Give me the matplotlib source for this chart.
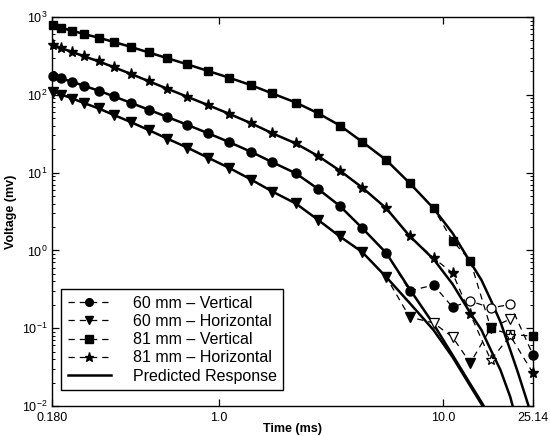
import numpy as np
import matplotlib
matplotlib.use("Agg")
import matplotlib.pyplot as plt
from matplotlib.lines import Line2D
from matplotlib.ticker import NullLocator, LogLocator

plt.rcParams["font.family"] = ["Liberation Sans", "DejaVu Sans"]
plt.rcParams["mathtext.default"] = "regular"

# measurement times (ms)
t = [0.182, 0.198, 0.222, 0.250, 0.291, 0.340, 0.404, 0.485, 0.587, 0.721,
     0.891, 1.11, 1.39, 1.73, 2.20, 2.77, 3.46, 4.35, 5.57, 7.08,
     9.05, 11.0, 13.2, 16.3, 19.9, 25.14]

# measured voltages (mV)
v60_vert = [174.6, 162.2, 147, 130.5, 112.9, 95.4, 78.9, 64.5, 52.0, 41.2,
            32.2, 24.7, 18.5, 13.6, 9.8, 6.15, 3.72, 1.94, 0.927, 0.301,
            0.359, 0.187, 0.224, 0.182, 0.202, 0.0453]
v60_horz = [109.6, 100.9, 89.6, 78.4, 66.7, 55.0, 44.7, 35.3, 27.4, 21.0,
            15.6, 11.5, 8.15, 5.71, 4.01, 2.46, 1.51, 0.953, 0.455, 0.139,
            0.117, 0.077, 0.0357, 0.1007, 0.131, np.nan]
v81_vert = [789, 724, 665, 605, 541, 478, 413, 351, 296, 247,
            203, 166, 133, 104, 79.6, 57.8, 40.3, 24.9, 14.5, 7.35,
            3.48, 1.33, 0.738, 0.100, 0.083, 0.079]
v81_horz = [437, 397, 355, 312, 269, 226, 186, 150, 120, 94.6,
            73.9, 57.0, 43.1, 32.0, 23.7, 16.3, 10.6, 6.43, 3.48, 1.53,
            0.80, 0.513, 0.152, 0.039, 0.080, 0.0265]

# indices drawn as open symbols
open_60_vert = [22, 23, 24]
open_60_horz = [20, 21, 24]
open_81_vert = [24]
open_81_horz = [23, 24]

# predicted response
t_pred = [0.182, 0.198, 0.222, 0.250, 0.291, 0.340, 0.404, 0.485, 0.587, 0.721,
          0.891, 1.11, 1.39, 1.73, 2.20, 2.77, 3.46, 4.35, 5.57, 7.08,
          9.05, 11.0, 13.2, 14.8, 16.3, 18.0, 19.9, 21.5, 23.4, 25.14]
p60_vert = [174.6, 162.2, 147, 130.5, 112.9, 95.4, 78.9, 64.5, 52.0, 41.2,
            32.2, 24.7, 18.5, 13.6, 9.8, 6.15, 3.72, 1.94, 0.927, 0.319,
            0.113, 0.0453, 0.0192, 0.01125, 0.0070, 0.004, 0.002, 0.001, 0.0008, 0.0005]
p60_horz = [109.6, 100.9, 89.6, 78.4, 66.7, 55.0, 44.7, 35.3, 27.4, 21.0,
            15.6, 11.5, 8.15, 5.71, 4.01, 2.46, 1.51, 0.953, 0.455, 0.211,
            0.0948, 0.0426, 0.0181, 0.0106, 0.0066, 0.004, 0.002, 0.001, 0.0008, 0.0005]
p81_vert = [789, 724, 665, 605, 541, 478, 413, 351, 296, 247,
            203, 166, 133, 104, 79.6, 57.8, 40.3, 24.9, 14.5, 7.35,
            3.48, 1.67, 0.71, 0.417, 0.23, 0.120, 0.0525, 0.0273, 0.0127, 0.0066]
p81_horz = [437, 397, 355, 312, 269, 226, 186, 150, 120, 94.6,
            73.9, 57.0, 43.1, 32.0, 23.7, 16.3, 10.6, 6.43, 3.48, 1.53,
            0.774, 0.370, 0.157, 0.095, 0.0525, 0.029, 0.0131, 0.0057, 0.002, 0.001]

labels = ["60 mm \u2013 Vertical", "60 mm \u2013 Horizontal",
          "81 mm \u2013 Vertical", "81 mm \u2013 Horizontal"]

series = [
    (v60_vert, open_60_vert, p60_vert, "o", 6.5),
    (v60_horz, open_60_horz, p60_horz, "v", 7.0),
    (v81_vert, open_81_vert, p81_vert, "s", 6.0),
    (v81_horz, open_81_horz, p81_horz, "*", 8.0),
]

dash = (0, (5, 4))

fig = plt.figure(figsize=(5.5, 4.36), dpi=100)
ax = fig.add_axes([0.0945, 0.0688, 0.8746, 0.8922])

tt = np.array(t)
handles = []
for (vals, opn, pred, mk, ms), lab in zip(series, labels):
    v = np.array(vals, dtype=float)
    filled = [i for i in range(len(v)) if i not in opn and not np.isnan(v[i])]
    ax.plot(t_pred, pred, "-", color="k", lw=1.8, zorder=2)
    ax.plot(tt, v, linestyle=dash, lw=0.9, color="k", zorder=3, clip_on=False)
    ax.plot(tt[filled], v[filled], ls="none", marker=mk, ms=ms, mfc="k",
            mec="k", zorder=4, clip_on=False)
    ax.plot(tt[opn], v[opn], ls="none", marker=mk, ms=ms, mfc="white",
            mec="k", mew=0.9, zorder=4, clip_on=False)
    handles.append(Line2D([], [], linestyle=dash, lw=0.9, color="k",
                          marker=mk, ms=ms * 0.85, mfc="k", mec="k"))
handles.append(Line2D([], [], ls="-", lw=1.8, color="k"))

ax.set_xscale("log")
ax.set_yscale("log")
ax.set_xlim(0.18, 25.14)
ax.set_ylim(1e-2, 1e3)

ax.set_xticks([0.18, 1.0, 10.0, 25.14])
ax.set_xticklabels(["0.180", "1.0", "10.0", "25.14"])
ax.xaxis.set_minor_locator(NullLocator())
ax.yaxis.set_major_locator(LogLocator(base=10, numticks=10))
ax.yaxis.set_minor_locator(LogLocator(base=10, subs=np.arange(2, 10), numticks=20))

ax.tick_params(which="both", direction="in", top=True, right=True, labelsize=9)
ax.tick_params(axis="x", pad=4.5)
ax.tick_params(axis="y", pad=3)
ax.tick_params(which="major", length=5, width=0.9)
ax.tick_params(which="minor", length=2.5, width=0.7)
for s in ax.spines.values():
    s.set_linewidth(1.0)

ax.set_xlabel("Time (ms)", fontsize=9, fontweight="bold")
ax.xaxis.set_label_coords(0.5, -0.044)
ax.set_ylabel("Voltage (mv)", fontsize=9, fontweight="bold", labelpad=4)

leg = ax.legend(handles, labels + ["Predicted Response"], loc="lower left",
                bbox_to_anchor=(0.019, 0.041), borderaxespad=0, fontsize=11.5,
                numpoints=1, handlelength=2.7, handletextpad=1.4,
                labelspacing=0.2, borderpad=0.4, fancybox=False,
                framealpha=1, edgecolor="k")
leg.get_frame().set_linewidth(1.0)
leg.set_zorder(5)

plt.savefig("out.png", dpi=100)
